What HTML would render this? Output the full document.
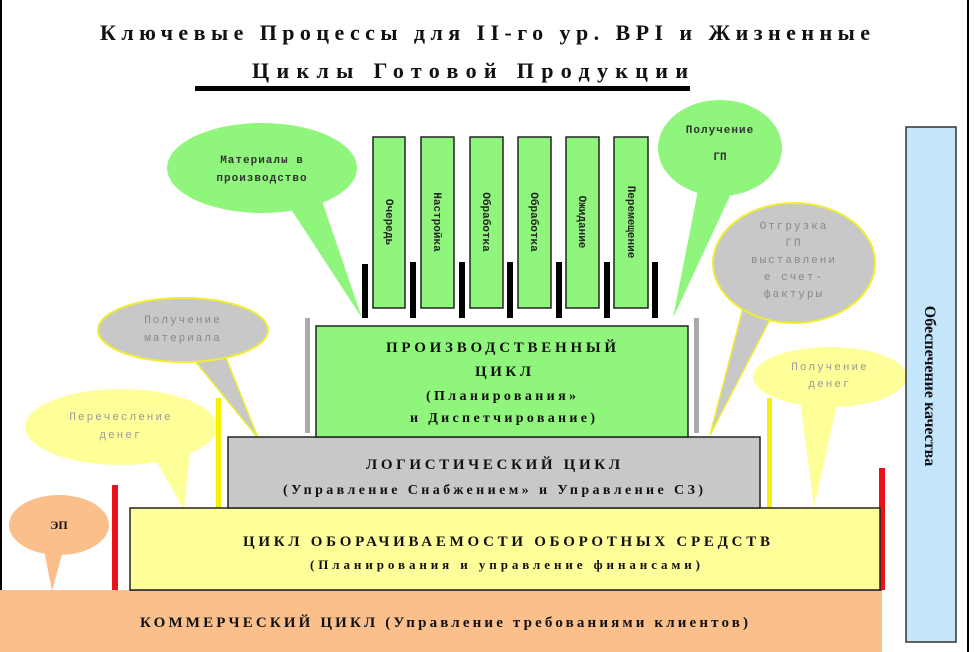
<!DOCTYPE html>
<html><head><meta charset="utf-8"><style>
html,body{margin:0;padding:0;background:#fff;}
svg{display:block;}
.t{font-family:"Liberation Serif","DejaVu Serif",serif;font-weight:bold;fill:#111;}
.m{font-family:"Liberation Mono","DejaVu Sans Mono",monospace;font-size:11px;}
</style></head><body>
<svg width="974" height="652" viewBox="0 0 974 652" xmlns="http://www.w3.org/2000/svg">
<rect x="0" y="0" width="974" height="652" fill="#fff"/>
<line x1="1" y1="0" x2="1" y2="652" stroke="#000" stroke-width="2"/>
<line x1="968" y1="0" x2="968" y2="652" stroke="#000" stroke-width="2"/>
<!-- title -->
<text class="t" x="100" y="40" font-size="22" textLength="770" lengthAdjust="spacing">Ключевые Процессы для II-го ур. ВРI и Жизненные</text>
<text class="t" x="252" y="78" font-size="22" textLength="436" lengthAdjust="spacing">Циклы Готовой Продукции</text>
<rect x="195" y="86" width="495" height="5" fill="#000"/>

<!-- commercial -->
<rect x="0" y="590" width="882" height="62" fill="#fbbf8c"/>
<line x1="130" y1="590" x2="882" y2="590" stroke="#333" stroke-width="1.5"/>
<text class="t" x="140" y="627" font-size="15" textLength="608" lengthAdjust="spacing">КОММЕРЧЕСКИЙ ЦИКЛ (Управление требованиями клиентов)</text>

<!-- callouts behind boxes -->
<!-- ЭП -->
<polygon points="42,540 66,540 52,591" fill="#fbbf8c"/>
<ellipse cx="59" cy="525" rx="50" ry="30" fill="#fbbf8c"/>
<text class="t" x="59" y="529" font-size="12" text-anchor="middle">ЭП</text>
<!-- Перечесление денег -->
<polygon points="150,450 190,450 184,510" fill="#ffff99"/>
<ellipse cx="121" cy="427" rx="96" ry="38" fill="#ffff99"/>
<text class="m" x="121" y="420" text-anchor="middle" fill="#999" letter-spacing="2">Перечесление</text>
<text class="m" x="121" y="438" text-anchor="middle" fill="#999" letter-spacing="2">денег</text>
<!-- Получение материала -->
<polygon points="190,355 225,355 258,438" fill="#c8c8c8" stroke="#eeee33" stroke-width="1.5"/>
<ellipse cx="183" cy="330" rx="85" ry="32" fill="#c8c8c8" stroke="#eeee33" stroke-width="2"/>
<text class="m" x="183" y="323" text-anchor="middle" fill="#888" letter-spacing="2">Получение</text>
<text class="m" x="183" y="341" text-anchor="middle" fill="#888" letter-spacing="2">материала</text>
<!-- Материалы в производство -->
<polygon points="285,200 320,195 362,318" fill="#90f57c"/>
<ellipse cx="262" cy="168" rx="95" ry="45" fill="#90f57c"/>
<text class="m" x="262" y="163" text-anchor="middle" fill="#333" font-weight="bold" letter-spacing="1">Материалы в</text>
<text class="m" x="262" y="181" text-anchor="middle" fill="#333" font-weight="bold" letter-spacing="1">производство</text>
<!-- Получение ГП -->
<polygon points="700,180 735,185 673,318" fill="#90f57c"/>
<ellipse cx="720" cy="148" rx="62" ry="48" fill="#90f57c"/>
<text class="m" x="720" y="133" text-anchor="middle" fill="#333" font-weight="bold" letter-spacing="1">Получение</text>
<text class="m" x="720" y="160" text-anchor="middle" fill="#333" font-weight="bold">ГП</text>
<!-- Отгрузка -->
<polygon points="745,300 775,310 710,435" fill="#c8c8c8" stroke="#eeee33" stroke-width="1.5"/>
<ellipse cx="794" cy="263" rx="81" ry="60" fill="#c8c8c8" stroke="#eeee33" stroke-width="2"/>
<text class="m" x="794" y="229" text-anchor="middle" fill="#888" letter-spacing="2">Отгрузка</text>
<text class="m" x="794" y="246" text-anchor="middle" fill="#888" letter-spacing="2">ГП</text>
<text class="m" x="794" y="263" text-anchor="middle" fill="#888" letter-spacing="2">выставлени</text>
<text class="m" x="794" y="280" text-anchor="middle" fill="#888" letter-spacing="2">е счет-</text>
<text class="m" x="794" y="297" text-anchor="middle" fill="#888" letter-spacing="2">фактуры</text>
<!-- Получение денег -->
<polygon points="800,400 838,400 814,508" fill="#ffff99"/>
<ellipse cx="830" cy="377" rx="77" ry="30" fill="#ffff99"/>
<text class="m" x="830" y="370" text-anchor="middle" fill="#999" letter-spacing="2">Получение</text>
<text class="m" x="830" y="387" text-anchor="middle" fill="#999" letter-spacing="2">денег</text>

<!-- vertical bars -->
<rect x="112" y="485" width="6" height="105" fill="#e8121a"/>
<rect x="879" y="468" width="6" height="122" fill="#e8121a"/>
<rect x="216" y="398" width="5" height="110" fill="#f5f000"/>
<rect x="767" y="398" width="5" height="110" fill="#f5f000"/>
<rect x="305" y="318" width="5" height="115" fill="#aaa"/>
<rect x="694" y="318" width="5" height="115" fill="#aaa"/>

<!-- turnover -->
<rect x="130" y="508" width="750" height="82" fill="#ffff99" stroke="#222" stroke-width="1.5"/>
<text class="t" x="243" y="546" font-size="15" textLength="527" lengthAdjust="spacing">ЦИКЛ ОБОРАЧИВАЕМОСТИ ОБОРОТНЫХ СРЕДСТВ</text>
<text class="t" x="310" y="569" font-size="13" textLength="390" lengthAdjust="spacing">(Планирования  и управление финансами)</text>

<!-- logistic -->
<rect x="228" y="437" width="532" height="71" fill="#c8c8c8" stroke="#222" stroke-width="1.5"/>
<text class="t" x="366" y="469" font-size="15" textLength="254" lengthAdjust="spacing">ЛОГИСТИЧЕСКИЙ ЦИКЛ</text>
<text class="t" x="283" y="494" font-size="14" textLength="420" lengthAdjust="spacing">(Управление Снабжением» и Управление СЗ)</text>

<!-- production -->
<rect x="316" y="326" width="372" height="111" fill="#90f57c" stroke="#222" stroke-width="1.5"/>
<text class="t" x="386" y="352" font-size="15" textLength="230" lengthAdjust="spacing">ПРОИЗВОДСТВЕННЫЙ</text>
<text class="t" x="475" y="376" font-size="15" textLength="56" lengthAdjust="spacing">ЦИКЛ</text>
<text class="t" x="426" y="400" font-size="14" textLength="150" lengthAdjust="spacing">(Планирования»</text>
<text class="t" x="410" y="422" font-size="14" textLength="185" lengthAdjust="spacing">и Диспетчирование)</text>

<!-- black small bars -->
<g fill="#000">
<rect x="362" y="264" width="6" height="54"/>
<rect x="410" y="262" width="6" height="56"/>
<rect x="459" y="262" width="6" height="56"/>
<rect x="507" y="262" width="6" height="56"/>
<rect x="556" y="262" width="6" height="56"/>
<rect x="604" y="262" width="6" height="56"/>
<rect x="652" y="262" width="6" height="56"/>
</g>
<!-- tall green bars -->
<g fill="#90f57c" stroke="#222" stroke-width="1.5">
<rect x="373" y="137" width="32" height="171"/>
<rect x="421" y="137" width="33" height="171"/>
<rect x="470" y="137" width="33" height="171"/>
<rect x="518" y="137" width="33" height="171"/>
<rect x="566" y="137" width="33" height="171"/>
<rect x="614" y="137" width="34" height="171"/>
</g>
<g class="m" font-size="8" fill="#222" font-weight="bold">
<text transform="translate(386,222) rotate(90)" text-anchor="middle">Очередь</text>
<text transform="translate(434,222) rotate(90)" text-anchor="middle">Настройка</text>
<text transform="translate(483,222) rotate(90)" text-anchor="middle">Обработка</text>
<text transform="translate(531,222) rotate(90)" text-anchor="middle">Обработка</text>
<text transform="translate(579,222) rotate(90)" text-anchor="middle">Ожидание</text>
<text transform="translate(628,222) rotate(90)" text-anchor="middle">Перемещение</text>
</g>

<!-- quality -->
<rect x="906" y="127" width="50" height="515" fill="#c5e5fb" stroke="#333" stroke-width="1.5"/>
<text class="t" transform="translate(925,386) rotate(90)" font-size="16" text-anchor="middle">Обеспечение качества</text>
</svg>
</body></html>
